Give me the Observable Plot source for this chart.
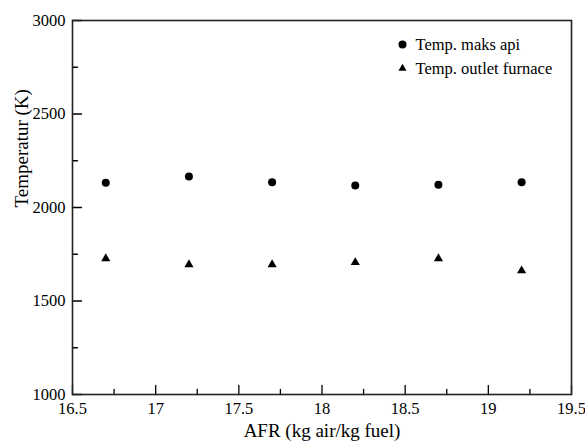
<!DOCTYPE html>
<html><head><meta charset="utf-8">
<script src="https://cdn.jsdelivr.net/npm/d3@7"></script>
<script src="https://cdn.jsdelivr.net/npm/@observablehq/plot@0.6"></script>
<style>
html,body{margin:0;padding:0;background:#fff}
#chart svg, #chart svg text { font-family: "Liberation Serif", "Tinos", "Times New Roman", "DejaVu Serif", serif !important; }
</style>
</head><body><div id="chart"></div>
<script>
const afr = [16.7, 17.2, 17.7, 18.2, 18.7, 19.2];
const tempMaksApi = [2132, 2166, 2135, 2118, 2121, 2135];
const tempOutletFurnace = [1727, 1695, 1695, 1706, 1727, 1662];
const seriesNames = ["Temp. maks api", "Temp. outlet furnace"];
const xMajor = [16.5, 17, 17.5, 18, 18.5, 19, 19.5];
const xMinor = [16.75, 17.25, 17.75, 18.25, 18.75, 19.25];
const yMajor = [1000, 1500, 2000, 2500, 3000];
const yMinor = [1250, 1750, 2250, 2750];
const xLabel = "AFR (kg air/kg fuel)";
const yLabel = "Temperatur (K)";

const maksData = afr.map((x, i) => ({x, y: tempMaksApi[i]}));
const outletData = afr.map((x, i) => ({x, y: tempOutletFurnace[i]}));

// a straight tick line used by inward tick marks
const tickShape = {draw(context, l) { context.moveTo(0, 0); context.lineTo(0, -l); }};

const chart = Plot.plot({
  width: 585,
  height: 441,
  marginLeft: 72,
  marginRight: 14,
  marginTop: 20,
  marginBottom: 47,
  style: {fontFamily: "'Liberation Serif', 'Times New Roman', serif", fontSize: "16.5px", background: "#fff", color: "#000"},
  x: {domain: [16.5, 19.5]},
  y: {domain: [1000, 3000]},
  marks: [
    Plot.axisX({ticks: xMajor, tickSize: 0, tickPadding: 8, tickFormat: d => String(d), label: null}),
    Plot.axisY({ticks: yMajor, tickSize: 0, tickPadding: 7, tickFormat: d => String(d), label: null}),
    // inward ticks
    Plot.vector(xMajor, {x: d => d, frameAnchor: "bottom", length: 9, anchor: "start", shape: tickShape, stroke: "#000", strokeWidth: 1.3}),
    Plot.vector(xMinor, {x: d => d, frameAnchor: "bottom", length: 5, anchor: "start", shape: tickShape, stroke: "#000", strokeWidth: 1.3}),
    Plot.vector(yMajor, {y: d => d, frameAnchor: "left", rotate: 90, length: 9, anchor: "start", shape: tickShape, stroke: "#000", strokeWidth: 1.3}),
    Plot.vector(yMinor, {y: d => d, frameAnchor: "left", rotate: 90, length: 5, anchor: "start", shape: tickShape, stroke: "#000", strokeWidth: 1.3}),
    Plot.frame({stroke: "#222", strokeWidth: 1.6}),
    Plot.dot(maksData, {x: "x", y: "y", r: 4, fill: "#000", symbol: "circle"}),
    Plot.dot(outletData, {x: "x", y: "y", r: 3.4, fill: "#000", symbol: "triangle"}),
    // legend
    Plot.dot([seriesNames[0]], {frameAnchor: "top-left", dx: 330, dy: 24, r: 4, fill: "#000", symbol: "circle"}),
    Plot.dot([seriesNames[1]], {frameAnchor: "top-left", dx: 330, dy: 48, r: 3.0, fill: "#000", symbol: "triangle"}),
    Plot.text([seriesNames[0]], {text: d => d, frameAnchor: "top-left", dx: 343, dy: 24, textAnchor: "start", lineAnchor: "middle", fontSize: 16.5}),
    Plot.text([seriesNames[1]], {text: d => d, frameAnchor: "top-left", dx: 343, dy: 48, textAnchor: "start", lineAnchor: "middle", fontSize: 16.5}),
    // axis titles
    Plot.text([xLabel], {text: d => d, frameAnchor: "bottom", dy: 36, lineAnchor: "middle", fontSize: 19}),
    Plot.text([yLabel], {text: d => d, frameAnchor: "left", dx: -51, rotate: -90, lineAnchor: "middle", fontSize: 19})
  ]
});
document.getElementById("chart").appendChild(chart);
</script>
</body></html>
